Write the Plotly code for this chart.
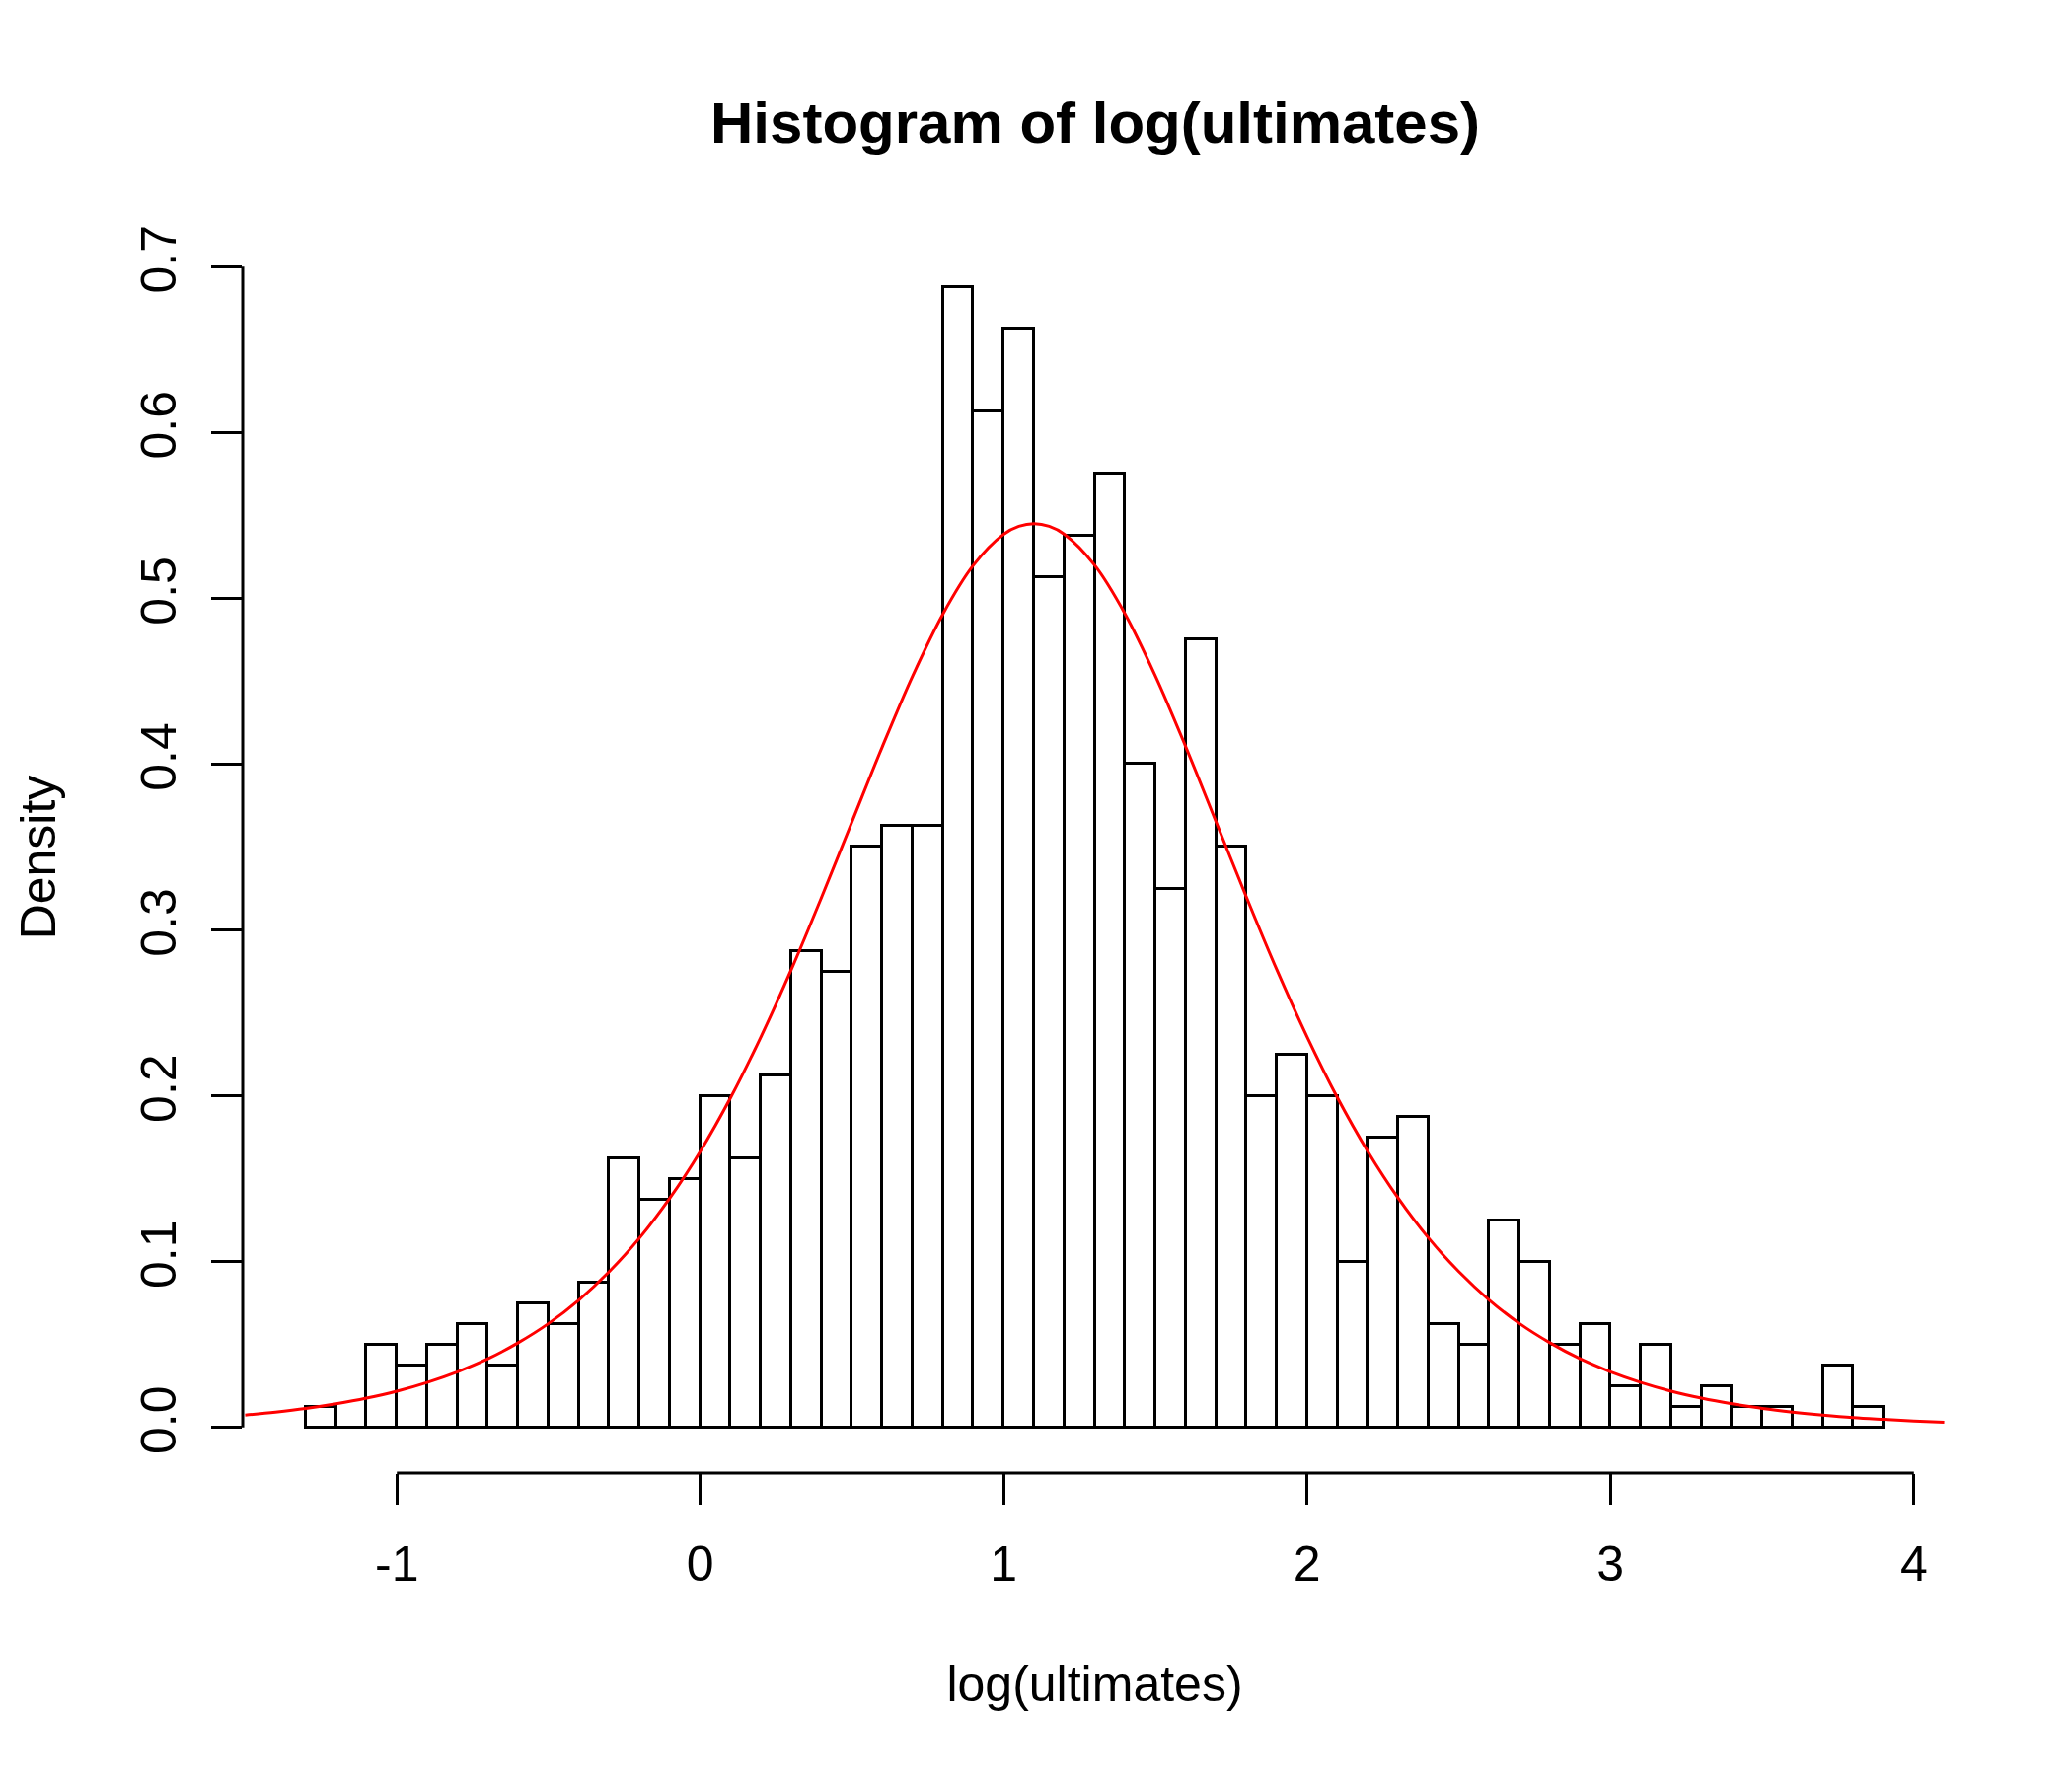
import plotly.graph_objects as go

# Histogram bins (left edges, width 0.1)
bin_left = [-1.3, -1.2, -1.1, -1.0, -0.9, -0.8, -0.7, -0.6, -0.5, -0.4,
            -0.3, -0.2, -0.1, 0.0, 0.1, 0.2, 0.3, 0.4, 0.5, 0.6,
            0.7, 0.8, 0.9, 1.0, 1.1, 1.2, 1.3, 1.4, 1.5, 1.6,
            1.7, 1.8, 1.9, 2.0, 2.1, 2.2, 2.3, 2.4, 2.5, 2.6,
            2.7, 2.8, 2.9, 3.0, 3.1, 3.2, 3.3, 3.4, 3.5, 3.6,
            3.7, 3.8]
bin_width = 0.1
density = [0.0125, 0.0, 0.05, 0.0375, 0.05, 0.0625, 0.0375, 0.075, 0.0625, 0.0875,
           0.1625, 0.1375, 0.15, 0.2, 0.1625, 0.2125, 0.2875, 0.275, 0.35, 0.3625,
           0.3625, 0.6875, 0.6125, 0.6625, 0.5125, 0.5375, 0.575, 0.4, 0.325, 0.475,
           0.35, 0.2, 0.225, 0.2, 0.1, 0.175, 0.1875, 0.0625, 0.05, 0.125,
           0.1, 0.05, 0.0625, 0.025, 0.05, 0.0125, 0.025, 0.0125, 0.0125, 0.0,
           0.0375, 0.0125]

# Fitted density curve
curve_x = [-1.5, -1.4, -1.3, -1.2, -1.1, -1.0, -0.9, -0.8, -0.7, -0.6,
           -0.5, -0.4, -0.3, -0.2, -0.1, 0.0, 0.1, 0.2, 0.3, 0.4,
           0.5, 0.6, 0.7, 0.8, 0.9, 1.0, 1.05, 1.1, 1.15, 1.2, 1.3, 1.4,
           1.5, 1.6, 1.7, 1.8, 1.9, 2.0, 2.1, 2.2, 2.3, 2.4,
           2.5, 2.6, 2.7, 2.8, 2.9, 3.0, 3.1, 3.2, 3.3, 3.4,
           3.5, 3.6, 3.7, 3.8, 3.9, 4.0, 4.1]
curve_y = [0.0075, 0.0093, 0.0115, 0.0143, 0.0177, 0.0219, 0.0272, 0.0336, 0.0414, 0.0511,
           0.0627, 0.0769, 0.0940, 0.1143, 0.1384, 0.1665, 0.1989, 0.2356, 0.2761, 0.3198,
           0.3652, 0.4105, 0.4532, 0.4906, 0.5199, 0.5386, 0.5434, 0.5450, 0.5434, 0.5386, 0.5199, 0.4906,
           0.4532, 0.4105, 0.3652, 0.3198, 0.2761, 0.2356, 0.1989, 0.1665, 0.1384, 0.1143,
           0.0940, 0.0769, 0.0627, 0.0511, 0.0414, 0.0336, 0.0272, 0.0219, 0.0177, 0.0143,
           0.0115, 0.0093, 0.0075, 0.0060, 0.0049, 0.0039, 0.0031]

x_ticks = [-1, 0, 1, 2, 3, 4]
y_ticks = [0.0, 0.1, 0.2, 0.3, 0.4, 0.5, 0.6, 0.7]
y_tick_labels = ["0.0", "0.1", "0.2", "0.3", "0.4", "0.5", "0.6", "0.7"]

FONT = "Liberation Sans, Arial, Helvetica, sans-serif"
LW = 3

centers = [b + bin_width / 2 for b in bin_left]

fig = go.Figure()
fig.add_trace(go.Bar(
    x=centers, y=density, width=bin_width,
    marker=dict(color="white", line=dict(color="black", width=LW)),
    showlegend=False, hoverinfo="x+y",
))
fig.add_trace(go.Scatter(
    x=curve_x, y=curve_y, mode="lines",
    line=dict(color="#ff0000", width=LW, shape="spline", smoothing=1.0),
    showlegend=False,
))

# R-style axis lines spanning only the tick range
fig.add_shape(type="line", xref="x", yref="paper", x0=x_ticks[0], x1=x_ticks[-1], y0=0, y1=0,
              line=dict(color="black", width=LW))
fig.add_shape(type="line", xref="paper", yref="y", x0=0, x1=0, y0=y_ticks[0], y1=y_ticks[-1],
              line=dict(color="black", width=LW))

fig.update_layout(
    width=2100, height=1800,
    margin=dict(l=246, r=127, t=245, b=307, pad=0),
    paper_bgcolor="white", plot_bgcolor="white",
    font=dict(family=FONT, size=50, color="black"),
    title=dict(text="Histogram of log(ultimates)", x=0.5286, xanchor="center",
               y=1 - 124 / 1800, yanchor="middle", yref="container",
               font=dict(family=FONT, size=60, color="black", weight="bold")),
    bargap=0,
)
fig.update_xaxes(
    range=[-1.508, 4.108], showgrid=False, zeroline=False, showline=False,
    tickmode="array", tickvals=x_ticks, ticktext=[str(t) for t in x_ticks],
    ticks="outside", ticklen=31, tickwidth=LW, tickcolor="black",
    ticklabelstandoff=17,
    tickfont=dict(family=FONT, size=50, color="black"),
    title=dict(text="log(ultimates)", font=dict(family=FONT, size=50, color="black"), standoff=76),
    automargin=False,
)
fig.update_yaxes(
    range=[-0.0275, 0.715], showgrid=False, zeroline=False, showline=False,
    tickmode="array", tickvals=y_ticks, ticktext=y_tick_labels, tickangle=-90,
    ticks="outside", ticklen=31, tickwidth=LW, tickcolor="black",
    ticklabelstandoff=16,
    tickfont=dict(family=FONT, size=50, color="black"),
    title=dict(text="Density", font=dict(family=FONT, size=50, color="black"), standoff=60),
    automargin=False,
)

fig.write_html("out.html")
